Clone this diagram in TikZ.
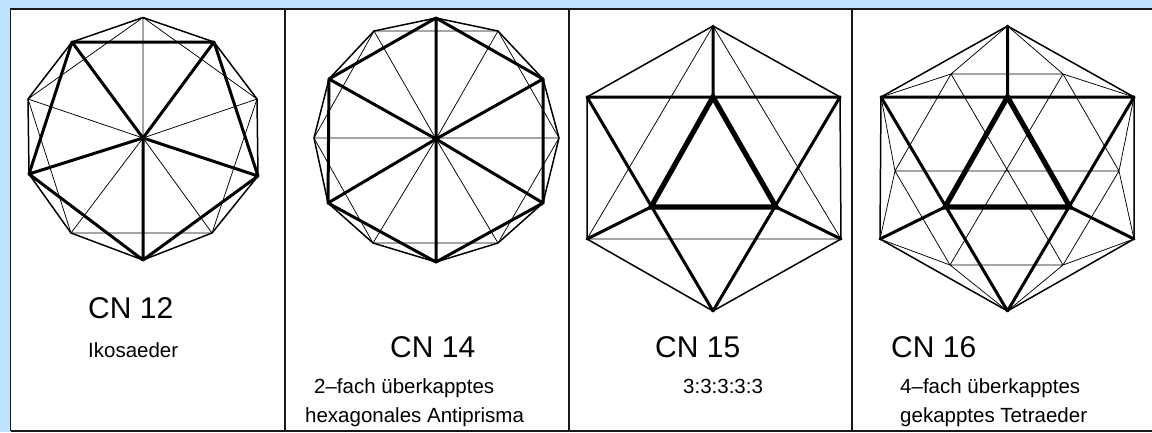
\documentclass[tikz,border=0pt]{standalone}
\usepackage{fontspec}
\setmainfont{Liberation Sans}
\definecolor{panelblue}{HTML}{C0E4FF}
\tikzset{
  thinedge/.style={line width=0.75pt,draw=black},
  medge/.style={line width=1.5pt,draw=black,line join=round},
  thedge/.style={line width=3pt,draw=black,line cap=round},
  fatedge/.style={line width=5.2pt,draw=black,line cap=round},
  framerule/.style={line width=1.8pt,draw=black!90},
  head/.style={anchor=base west,inner sep=0pt,font=\fontsize{30}{30}\selectfont},
  sub/.style={anchor=base west,inner sep=0pt,font=\fontsize{20.5}{20.5}\selectfont},
}
\begin{document}
\begin{tikzpicture}[x=1pt,y=-1pt]
\useasboundingbox (0,0) rectangle (1152,432);
\fill[panelblue] (0,0) rectangle (1152,432);
\fill[white] (10.5,9) rectangle (1152,431);
% frame
\coordinate (ftl) at (10.5,9); \coordinate (ftr) at (1152,9);
\coordinate (fbl) at (10.5,431); \coordinate (fbr) at (1152,431);
\draw[framerule] (fbl) -- (ftl) -- (ftr);
\draw[framerule] (fbl) -- (fbr);
\foreach \x in {285,569,852} {\draw[framerule,line width=1.5pt] (\x,9) -- (\x,431);}

% ---- panel 1
\foreach \n/\p in {t/{143,17.5},tl/{72,42},tr/{214,42},ul/{28,99},ur/{257,99},ll/{29,174},lr/{258,176},bl/{71,233},br/{212,233},b/{143,260},c/{143,138}}
  {\coordinate (a\n) at (\p);}
\draw[thinedge] (at)--(ac) (at)--(aul) (at)--(aur) (ac)--(aul) (ac)--(aur) (ac)--(abl) (ac)--(abr)
  (aul)--(abl) (aur)--(abr) (abl)--(abr);
\draw[medge] (at)--(atr)--(aur)--(alr)--(abr)--(ab)--(abl)--(all)--(aul)--(atl)--cycle;
\draw[thedge] (atl)--(atr) (atl)--(ac) (atr)--(ac) (atl)--(all) (atr)--(alr) (all)--(ac) (alr)--(ac)
  (ac)--(ab) (all)--(ab) (alr)--(ab);

% ---- panel 2
\foreach \n/\p in {t/{436,18},a/{498,31},b/{543,79},d/{559,138},e/{543,203},f/{498,243},g/{436,262},h/{373,243},i/{328,203},j/{314,138},k/{329,79},l/{374,31},c/{436,139}}
  {\coordinate (b\n) at (\p);}
\draw[thinedge] (bl)--(ba) (bh)--(bf) (bl)--(bc) (ba)--(bc) (bh)--(bc) (bf)--(bc) (bj)--(bd)
  (bj)--(bl) (bd)--(ba) (bj)--(bh) (bd)--(bf);
\draw[medge] (bt)--(ba)--(bb)--(bd)--(be)--(bf)--(bg)--(bh)--(bi)--(bj)--(bk)--(bl)--cycle;
\draw[thedge] (bt)--(bb) (bt)--(bk) (bk)--(bc) (bb)--(bc) (bt)--(bg) (bc)--(bi) (bc)--(be)
  (bk)--(bi) (bb)--(be) (bi)--(bg) (be)--(bg);

% ---- panel 3
\foreach \n/\p in {t/{713,26},b/{713,311},ul/{587,97},ur/{840,97},ll/{587,239},lr/{841,239},it/{713,97},il/{651,207},ir/{776,207}}
  {\coordinate (c\n) at (\p);}
\draw[thinedge] (ct)--(cll) (ct)--(clr) (cll)--(clr);
\draw[medge] (ct)--(cur)--(clr)--(cb)--(cll)--(cul)--cycle;
\draw[thedge] (ct)--(cit) (cul)--(cur) (cul)--(cb) (cur)--(cb) (cll)--(cil) (clr)--(cir);
\draw[fatedge] (cit)--(cil)--(cir)--cycle;

% ---- panel 4
\foreach \n/\p in {t/{1007.5,26},b/{1007.5,311},ul/{881,97},ur/{1134,97},ll/{880,239},lr/{1134,239},it/{1007.5,97},il/{945,207},ir/{1070,207},
  p/{951,74},q/{1063,74},r/{895,171},s/{1119,171},u/{950,265},v/{1063,265}}
  {\coordinate (d\n) at (\p);}
\draw[thinedge] (dp)--(dq) (du)--(dv) (dr)--(ds) (dt)--(dp) (dt)--(dq) (dul)--(dp) (dur)--(dq)
  (dul)--(dr) (dll)--(dr) (dur)--(ds) (dlr)--(ds) (dll)--(du) (dlr)--(dv) (db)--(du) (db)--(dv)
  (dp)--(dv) (dq)--(du) (dr)--(dp) (ds)--(dq) (dr)--(du) (ds)--(dv);
\draw[medge] (dt)--(dur)--(dlr)--(db)--(dll)--(dul)--cycle;
\draw[thedge] (dt)--(dit) (dul)--(dur) (dul)--(db) (dur)--(db) (dll)--(dil) (dlr)--(dir);
\draw[fatedge] (dit)--(dil)--(dir)--cycle;

% ---- labels
\node[head] (h12) at (88,318) {CN 12};
\node[sub] (s12) at (88,357) {Ikosaeder};
\node[head] (h14) at (390,357) {CN 14};
\node[sub] (s14a) at (314,393) {2–fach überkapptes};
\node[sub] (s14b) at (305,422) {hexagonales Antiprisma};
\node[head] (h15) at (655,357) {CN 15};
\node[sub] (s15) at (683,393) {3:3:3:3:3};
\node[head] (h16) at (891,357) {CN 16};
\node[sub] (s16a) at (900,393) {4–fach überkapptes};
\node[sub] (s16b) at (900,422) {gekapptes Tetraeder};
\end{tikzpicture}
\end{document}
